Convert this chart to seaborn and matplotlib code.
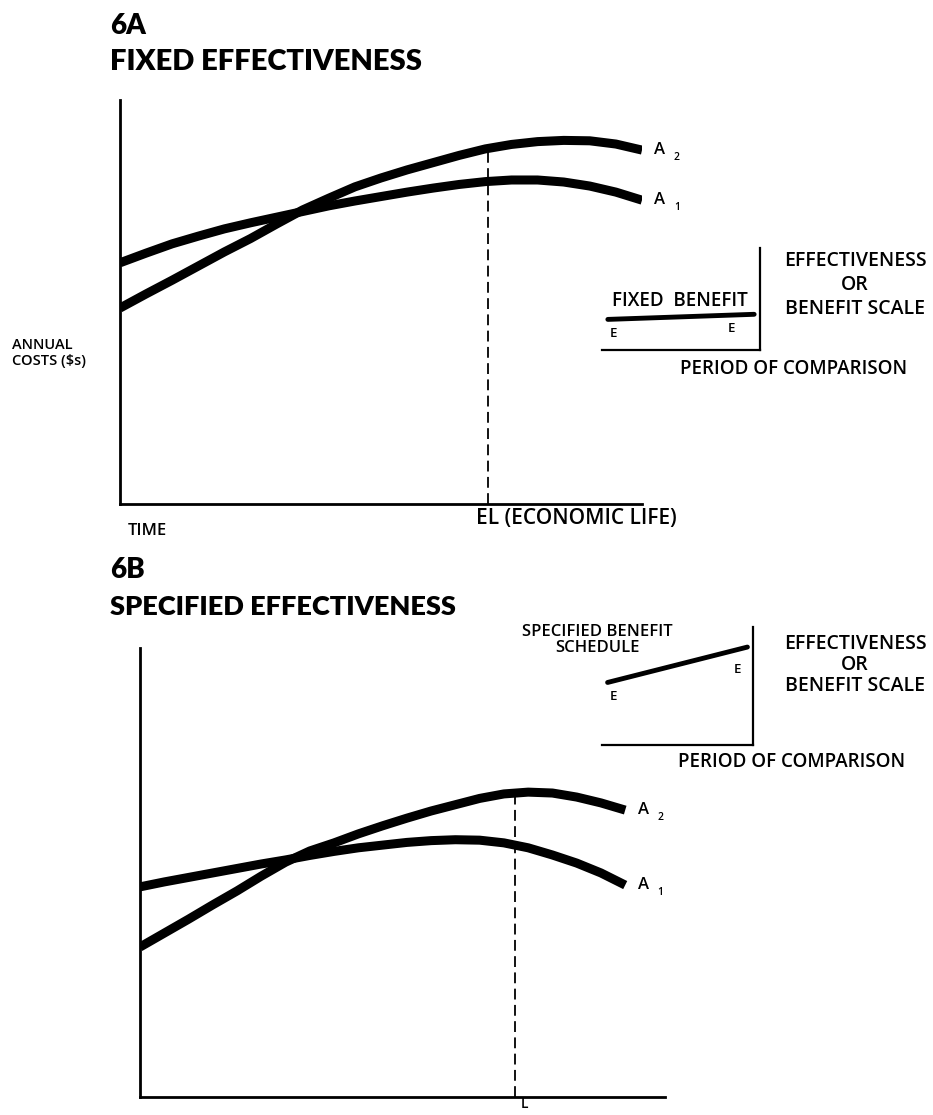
import numpy as np
import pandas as pd
import matplotlib
matplotlib.use("Agg")
import matplotlib.pyplot as plt
import seaborn as sns

# ---------------- data ----------------
time = [0.0, 0.5, 1.0, 1.5, 2.0, 2.5, 3.0, 3.5, 4.0, 4.5, 5.0,
        5.5, 6.0, 6.5, 7.0, 7.5, 8.0, 8.5, 9.0, 9.5, 10.0]
# Panel 6A: fixed effectiveness (annual costs)
a2_fixed = [4.85, 5.20, 5.54, 5.89, 6.24, 6.57, 6.93, 7.28, 7.57, 7.85, 8.07,
            8.27, 8.45, 8.63, 8.79, 8.90, 8.97, 9.00, 8.99, 8.91, 8.76]
a1_fixed = [5.97, 6.21, 6.44, 6.63, 6.81, 6.96, 7.10, 7.24, 7.38, 7.50, 7.61,
            7.72, 7.82, 7.91, 7.98, 8.02, 8.02, 7.97, 7.87, 7.72, 7.52]
el_time = 7.05
# Panel 6B: specified effectiveness (annual costs)
a2_spec = [3.34, 3.65, 3.96, 4.28, 4.59, 4.92, 5.23, 5.48, 5.66, 5.86, 6.04,
           6.21, 6.37, 6.51, 6.65, 6.75, 6.79, 6.77, 6.68, 6.55, 6.39]
a1_spec = [4.68, 4.79, 4.89, 4.99, 5.09, 5.19, 5.28, 5.38, 5.47, 5.55, 5.61,
           5.67, 5.71, 5.73, 5.72, 5.66, 5.55, 5.39, 5.21, 4.99, 4.72]
l_time = 7.73
# insets: benefit over the period of comparison
period = [0.0, 1.0]
fixed_benefit = [0.30, 0.35]
specified_benefit = [0.53, 0.83]

sns.set_theme(style="white")
plt.rcParams['font.family'] = ['Open Sans', 'DejaVu Sans']

W, H = 933, 1115
fig = plt.figure(figsize=(W / 100, H / 100), dpi=100)


def rect(left, top, right, bottom):
    return [left / W, 1 - bottom / H, (right - left) / W, (bottom - top) / H]


def px(x, y):
    return x / W, 1 - y / H


TITLE = dict(family=['Lato', 'Open Sans', 'DejaVu Sans'], fontweight='heavy', color='black')
LAB = dict(family=['Open Sans', 'DejaVu Sans'], fontweight='semibold', color='black')


def main_panel(r, xmax, a2, a1, mark_t):
    ax = fig.add_axes(r)
    df = pd.DataFrame({'t': time * 2, 'cost': a2 + a1,
                       'alt': ['A2'] * len(time) + ['A1'] * len(time)})
    sns.lineplot(data=df, x='t', y='cost', hue='alt', palette={'A2': 'black', 'A1': 'black'},
                 linewidth=6.5, legend=False, ax=ax, solid_capstyle='butt',
                 solid_joinstyle='round')
    top = float(np.interp(mark_t, time, a2))
    ax.vlines(mark_t, 0, top, colors='black', linestyles=(0, (6, 3)), linewidth=1.3)
    ax.set_xlim(0, xmax)
    ax.set_ylim(0, 10)
    for s in ['top', 'right']:
        ax.spines[s].set_visible(False)
    for s in ['left', 'bottom']:
        ax.spines[s].set_color('black')
        ax.spines[s].set_linewidth(2.0)
    ax.set_xticks([])
    ax.set_yticks([])
    ax.set_xlabel('')
    ax.set_ylabel('')
    ax.patch.set_alpha(0)
    for vals, sub in [(a2, '2'), (a1, '1')]:
        ax.annotate('A', (time[-1], vals[-1]), xytext=(9, 0), textcoords='offset points',
                    va='center', ha='left', fontsize=12, **LAB)
        ax.annotate(sub, (time[-1], vals[-1]), xytext=(23, -5), textcoords='offset points',
                    va='center', ha='left', fontsize=7.5, **LAB)
    return ax


def inset(r, benefit, right_off):
    ax = fig.add_axes(r)
    sns.lineplot(x=period, y=benefit, color='black', linewidth=3.5, ax=ax)
    ax.set_xlim(-0.04, 1.04)
    ax.set_ylim(0, 1)
    for s in ['top', 'left']:
        ax.spines[s].set_visible(False)
    for s in ['right', 'bottom']:
        ax.spines[s].set_color('black')
        ax.spines[s].set_linewidth(1.6)
    ax.set_xticks([])
    ax.set_yticks([])
    ax.patch.set_alpha(0)
    ax.annotate('E', (period[0], benefit[0]), xytext=(4, -10), textcoords='offset points',
                ha='center', va='center', fontsize=9.5, **LAB)
    ax.annotate('E', (period[1], benefit[1]), xytext=right_off, textcoords='offset points',
                ha='center', va='center', fontsize=9.5, **LAB)
    return ax


# ---------------- 6A ----------------
fig.text(*px(110, 26), '6A', fontsize=20, va='center', ha='left', **TITLE)
fig.text(*px(110, 62), 'FIXED EFFECTIVENESS', fontsize=21, va='center', ha='left', **TITLE)
main_panel(rect(120, 100, 642, 504), 10, a2_fixed, a1_fixed, el_time)
fig.text(*px(12, 353), 'ANNUAL\nCOSTS ($s)', fontsize=10.5, va='center', ha='left',
         linespacing=1.25, **LAB)
fig.text(*px(128, 531), 'TIME', fontsize=12, va='center', ha='left', **LAB)
fig.text(*px(476, 519), 'EL (ECONOMIC LIFE)', fontsize=15, va='center', ha='left', **LAB)

inset(rect(602, 248, 760, 350), fixed_benefit, (-16, -10))
fig.text(*px(680, 301), 'FIXED  BENEFIT', fontsize=13.5, va='center', ha='center', **LAB)
fig.text(*px(855, 285), 'EFFECTIVENESS\nOR\nBENEFIT SCALE', fontsize=14, va='center',
         ha='center', linespacing=1.25, **LAB)
fig.text(*px(794, 369), 'PERIOD OF COMPARISON', fontsize=13.5, va='center', ha='center', **LAB)

# ---------------- 6B ----------------
fig.text(*px(110, 570), '6B', fontsize=20, va='center', ha='left', **TITLE)
fig.text(*px(110, 607), 'SPECIFIED EFFECTIVENESS', fontsize=19.5, va='center', ha='left', **TITLE)
main_panel(rect(140, 648, 665, 1097), 10.82, a2_spec, a1_spec, l_time)
fig.text(*px(525, 1104), 'L', fontsize=10, va='center', ha='center', **LAB)

inset(rect(602, 627, 753, 745), specified_benefit, (-7, -16))
fig.text(*px(597, 640), 'SPECIFIED BENEFIT\nSCHEDULE', fontsize=12, va='center', ha='center',
         linespacing=0.95, **LAB)
fig.text(*px(855, 665), 'EFFECTIVENESS\nOR\nBENEFIT SCALE', fontsize=14, va='center',
         ha='center', linespacing=1.08, **LAB)
fig.text(*px(792, 762), 'PERIOD OF COMPARISON', fontsize=13.5, va='center', ha='center', **LAB)

fig.savefig('out.png', dpi=100, facecolor='white')
